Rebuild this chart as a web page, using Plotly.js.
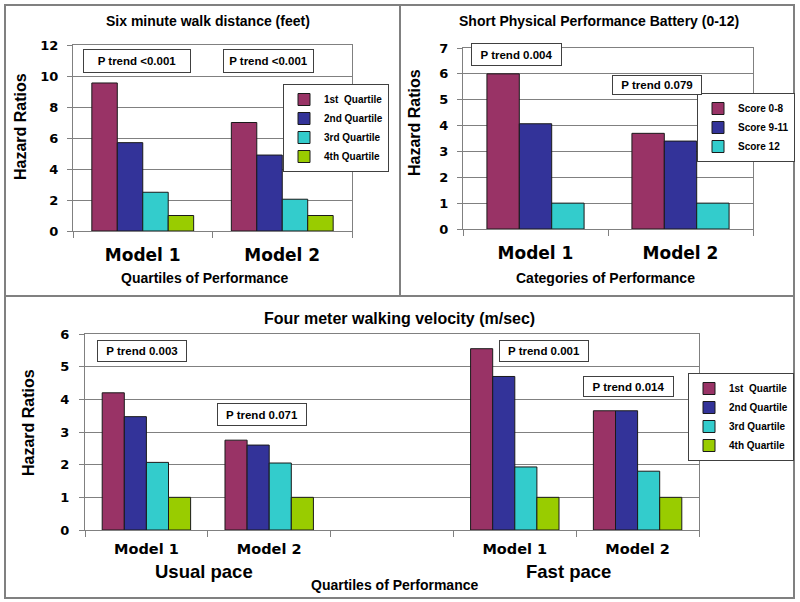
<!DOCTYPE html>
<html>
<head>
<meta charset="utf-8">
<script src="https://cdn.plot.ly/plotly-3.0.1.min.js"></script>
<style>html,body{margin:0;padding:0;background:#fff;}#chart{width:800px;height:602px;}</style>
</head>
<body>
<div id="chart"></div>
<script>
// ---------- data ----------
const sixCategories = ['Model 1', 'Model 2'];
const quartileNames = ['1st\u00a0 Quartile', '2nd Quartile', '3rd Quartile', '4th Quartile'];
const sixQ1 = [9.55, 7.0];
const sixQ2 = [5.7, 4.9];
const sixQ3 = [2.5, 2.05];
const sixQ4 = [1.0, 1.0];

const sppbCategories = ['Model 1', 'Model 2'];
const scoreNames = ['Score 0-8', 'Score 9-11', 'Score 12'];
const sppbS1 = [6.0, 3.7];
const sppbS2 = [4.07, 3.4];
const sppbS3 = [1.0, 1.0];

const walkCategories = ['Model 1', 'Model 2', '', 'Model 1', 'Model 2'];
const walkQ1 = [4.2, 2.75, null, 5.55, 3.65];
const walkQ2 = [3.47, 2.6, null, 4.7, 3.65];
const walkQ3 = [2.07, 2.05, null, 1.93, 1.8];
const walkQ4 = [1.0, 1.0, null, 1.0, 1.0];

const pTrendTexts = ['P trend <0.001', 'P trend <0.001', 'P trend 0.004', 'P trend 0.079',
                     'P trend 0.003', 'P trend 0.071', 'P trend 0.001', 'P trend 0.014'];
const panelTitles = ['Six minute walk distance (feet)', 'Short Physical Performance Battery (0-12)', 'Four meter walking velocity (m/sec)'];
const yTitle = 'Hazard Ratios';
const xTitles = ['Quartiles of Performance', 'Categories of Performance', 'Quartiles of Performance'];
const paceLabels = ['Usual pace', 'Fast pace'];

// ---------- styling ----------
const colors = ['#993366', '#333399', '#33CCCC', '#99CC00'];
const fontA = 'Liberation Sans, Arial, sans-serif';
const fontW = 'DejaVu Sans, Verdana, sans-serif';
const W = 800, H = 602;
const px = x => x / W;
const py = y => 1 - y / H;
const grey = '#808080';

const idx = arr => arr.map((_, i) => i);
const bounds = arr => Array.from({length: arr.length + 1}, (_, i) => i - 0.5);

const traces = [];
// groupFrac: share of each category slot filled by the bar group
function addSeries(cats, series, names, xa, ya, lg, groupFrac) {
  const n = series.length;
  series.forEach((vals, i) => {
    const t = {
      type: 'bar', x: idx(cats), y: vals, name: names[i],
      xaxis: xa, yaxis: ya, legend: lg,
      marker: {color: colors[i], line: {color: '#1a1a1a', width: 1}},
      hoverinfo: 'skip'
    };
    if (groupFrac) {
      const w = groupFrac / n;
      t.width = w;
      t.offset = -groupFrac / 2 + i * w;
    }
    traces.push(t);
  });
}
addSeries(sixCategories, [sixQ1, sixQ2, sixQ3, sixQ4], quartileNames, 'x', 'y', 'legend', 0.73);
addSeries(sppbCategories, [sppbS1, sppbS2, sppbS3], scoreNames, 'x2', 'y2', 'legend2', 0.67);
addSeries(walkCategories, [walkQ1, walkQ2, walkQ3, walkQ4], quartileNames, 'x3', 'y3', 'legend3', 0.72);

function xAxis(cats, x0, x1, anchor, fsize, standoff) {
  return {
    domain: [px(x0), px(x1)], anchor: anchor, range: [-0.5, cats.length - 0.5],
    tickmode: 'array', tickvals: idx(cats), ticktext: cats, ticks: '',
    ticklabelstandoff: standoff,
    tickfont: {family: fontW, size: fsize, weight: 'bold', color: '#000'},
    minor: {tickmode: 'array', tickvals: bounds(cats), ticks: 'outside', ticklen: 6, tickcolor: grey, tickwidth: 1, showgrid: false},
    showline: true, linecolor: grey, linewidth: 1, mirror: true,
    showgrid: false, zeroline: false, fixedrange: true
  };
}
function yAxis(y0, y1, anchor, maxv, dtick, standoff) {
  return {
    domain: [py(y1), py(y0)], anchor: anchor, range: [0, maxv], dtick: dtick,
    ticks: 'outside', ticklen: 5, tickcolor: grey, tickwidth: 1,
    ticklabelstandoff: standoff,
    tickfont: {family: fontW, size: 13, weight: 'bold', color: '#000'},
    showline: true, linecolor: grey, linewidth: 1, mirror: true,
    showgrid: true, gridcolor: grey, gridwidth: 1, zeroline: false, fixedrange: true
  };
}

const legendBase = {
  xanchor: 'left', yanchor: 'top', bgcolor: '#ffffff', bordercolor: '#404040', borderwidth: 1,
  font: {family: fontA, size: 10, weight: 'bold', color: '#000'}, itemclick: false, itemdoubleclick: false
};

const annotations = [];
function label(text, x, y, size, opts) {
  annotations.push(Object.assign({
    text: text, xref: 'paper', yref: 'paper', x: px(x), y: py(y),
    xanchor: 'center', yanchor: 'middle', showarrow: false,
    font: {family: fontA, size: size, weight: 'bold', color: '#000'}
  }, opts || {}));
}
// titles
label(panelTitles[0], 208, 21, 14);
label(panelTitles[1], 599, 21, 14);
label(panelTitles[2], 399, 318, 16);
// y titles
label(yTitle, 20, 127, 16, {textangle: -90});
label(yTitle, 415, 123, 16, {textangle: -90});
label(yTitle, 28, 423, 16, {textangle: -90});
// x titles
label(xTitles[0], 205, 278, 14);
label(xTitles[1], 605, 278, 14);
label(xTitles[2], 394, 585, 14);
label(paceLabels[0], 204, 571, 18.5);
label(paceLabels[1], 568, 571, 18.5);
// P trend boxes [cx, cy, w, h]
const boxGeom = [[137, 61, 108, 24], [268.5, 61, 91, 24], [516.5, 54.5, 91, 23], [657, 84.5, 90, 20],
                 [142, 351, 90, 22], [262, 414.5, 90, 23], [544, 351, 90, 22], [628.5, 386.5, 91, 21]];
pTrendTexts.forEach((t, i) => {
  const g = boxGeom[i];
  label(t, g[0], g[1], 11.5, {
    width: g[2] - 2, height: g[3] - 2, borderpad: 0, bordercolor: '#404040', borderwidth: 1,
    bgcolor: '#ffffff', align: 'center', valign: 'middle'
  });
});

const frame = (x0, y0, x1, y1) => ({type: 'rect', xref: 'paper', yref: 'paper',
  x0: px(x0), x1: px(x1), y0: py(y1), y1: py(y0), line: {color: grey, width: 2}, layer: 'below'});

const layout = {
  width: W, height: H, margin: {l: 0, r: 0, t: 0, b: 0},
  paper_bgcolor: '#ffffff', plot_bgcolor: '#ffffff',
  barmode: 'group', bargap: 0.28, bargroupgap: 0,
  showlegend: true,
  xaxis: xAxis(sixCategories, 73, 352, 'y', 17, 9),
  yaxis: yAxis(45, 231, 'x', 12, 2, 6),
  xaxis2: xAxis(sppbCategories, 463, 753, 'y2', 17, 9),
  yaxis2: yAxis(48, 229, 'x2', 7, 1, 6),
  xaxis3: xAxis(walkCategories, 85, 699, 'y3', 14.5, 6),
  yaxis3: yAxis(334, 530, 'x3', 6, 1, 7),
  legend: Object.assign({}, legendBase, {x: px(283), y: py(84)}),
  legend2: Object.assign({}, legendBase, {x: px(697), y: py(93)}),
  legend3: Object.assign({}, legendBase, {x: px(688), y: py(373)}),
  annotations: annotations,
  shapes: [frame(5, 5, 400, 296), frame(400, 5, 794, 296), frame(5, 296, 794, 598)]
};

Plotly.newPlot('chart', traces, layout, {displayModeBar: false, staticPlot: true});
</script>
</body>
</html>
